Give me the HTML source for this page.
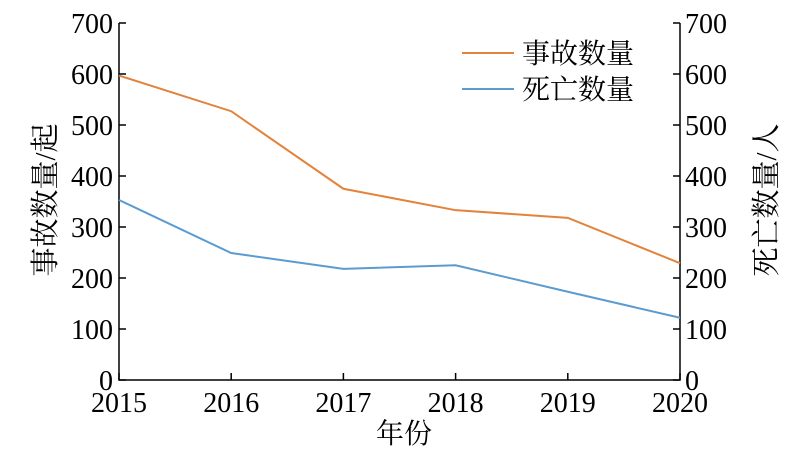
<!DOCTYPE html>
<html><head><meta charset="utf-8"><style>
html,body{margin:0;padding:0;background:#fff;}
svg text{font-family:"Liberation Serif","Noto Serif CJK SC",serif;fill:#000;}
</style></head><body>
<svg id="chart" width="788" height="461" xmlns="http://www.w3.org/2000/svg"></svg>
<script>
const years = ["2015","2016","2017","2018","2019","2020"];
const accidents = [597, 527, 375, 333, 318, 229];
const deaths = [353, 249, 218, 225, 173, 122];
const yTicks = [0,100,200,300,400,500,600,700];

const svg = document.getElementById('chart');
const NS = 'http://www.w3.org/2000/svg';
const X0 = 119, X1 = 680, Y0 = 380, Y1 = 23, YMAX = 700;
function xs(i){ return X0 + (X1 - X0) * i / (years.length - 1); }
function ys(v){ return Y0 - (Y0 - Y1) * v / YMAX; }
function mk(tag, attrs, parent){
  const e = document.createElementNS(NS, tag);
  for (const k in attrs) e.setAttribute(k, attrs[k]);
  (parent || svg).appendChild(e);
  return e;
}

let ax = mk('path', {d:`M${X0},${Y1} V${Y0} H${X1} V${Y1}`, fill:'none', stroke:'#000', 'stroke-width':1.5});



yTicks.forEach(v => {
  const y = ys(v);
  let t = mk('line', {x1:X0, x2:X0+7, y1:y, y2:y, stroke:'#000', 'stroke-width':1.5});
  
  
  let t2 = mk('line', {x1:X1-7, x2:X1, y1:y, y2:y, stroke:'#000', 'stroke-width':1.5});
  
  
  let l = mk('text', {x:X0-6, y:y+10, 'text-anchor':'end', 'font-size':28});
  l.textContent = v;
  
  
  let r = mk('text', {x:X1+5, y:y+10, 'text-anchor':'start', 'font-size':28});
  r.textContent = v;
  
  
});

years.forEach((yr, i) => {
  const x = xs(i);
  let t = mk('line', {x1:x, x2:x, y1:Y0, y2:Y0-7, stroke:'#000', 'stroke-width':1.5});
  
  
  let l = mk('text', {x:x, y:412, 'text-anchor':'middle', 'font-size':28});
  l.textContent = yr;
  
  
});

function series(vals, color, name){
  const pts = vals.map((v,i) => xs(i) + ',' + ys(v)).join(' ');
  let p = mk('polyline', {points:pts, fill:'none', stroke:color, 'stroke-width':2});
  
  
}
series(accidents, '#e3823b', 'accidents-line');
series(deaths, '#5b9bd0', 'deaths-line');

let lg1 = mk('line', {x1:462, x2:514, y1:53, y2:53, stroke:'#e3823b', 'stroke-width':2});


let lt1 = mk('text', {x:522, y:63, 'font-size':28});
lt1.textContent = '事故数量';


let lg2 = mk('line', {x1:462, x2:514, y1:89, y2:89, stroke:'#5b9bd0', 'stroke-width':2});


let lt2 = mk('text', {x:522, y:99, 'font-size':28});
lt2.textContent = '死亡数量';



let xt = mk('text', {x:404, y:443, 'text-anchor':'middle', 'font-size':28});
xt.textContent = '年份';


let yt = mk('text', {x:0, y:0, 'text-anchor':'middle', 'font-size':29, transform:'translate(55,200) rotate(-90)'});
yt.textContent = '事故数量/起';


let yt2 = mk('text', {x:0, y:0, 'text-anchor':'middle', 'font-size':29, transform:'translate(776,200) rotate(-90)'});
yt2.textContent = '死亡数量/人';


</script>
</body></html>
